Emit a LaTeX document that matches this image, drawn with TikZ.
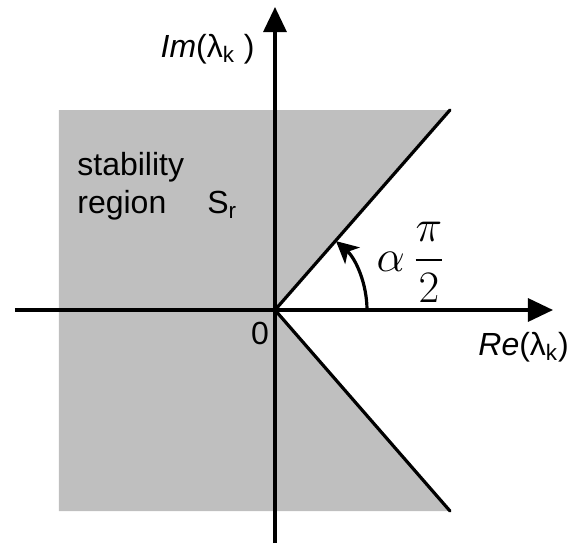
\documentclass[tikz,border=0pt]{standalone}
\usepackage{amsmath}
\usepackage{fontspec}
\setmainfont{Liberation Sans}
\usetikzlibrary{arrows.meta}

\tikzset{
  axis/.style={line width=1.6pt,-{Triangle[length=12.5pt,width=11.5pt]}},
  region/.style={fill=black!25},
  bound/.style={line width=1.6pt},
  lbl/.style={inner sep=0pt,font=\fontsize{16}{19}\selectfont}
}

\begin{document}
\begin{tikzpicture}[x=0.5pt,y=0.5pt]
\useasboundingbox (-275,-233) rectangle (294,310);
% axis ends and region corners
\coordinate (O) at (0,0);
\coordinate (xl) at (-260,0);
\coordinate (xr) at (278,0);
\coordinate (yb) at (0,-233);
\coordinate (yt) at (0,303);
\coordinate (ur) at (175,200);
\coordinate (lr) at (175,-201);
\fill[region] (-216,200) -- (ur) -- (O) -- (lr) -- (-216,-201) -- cycle;
\draw[axis] (xl) -- (xr);
\draw[axis] (yb) -- (yt);
\draw[bound,line cap=round] (ur) -- (O) -- (lr);
% angle of the sector
\draw[line width=1.6pt,-{Stealth[length=11pt,width=11pt,inset=3pt]}] (92,0) arc[start angle=0,end angle=48.5,radius=92];
\node[lbl,scale=1.3] (ang) at (136,48) {$\alpha\,\dfrac{\pi}{2}$};
\node[lbl,anchor=base east] (imlab) at (-20,253) {\textit{Im}(λ\textsubscript{k} )};
\node[lbl,anchor=base west] (relab) at (203,-45) {\textit{Re}(λ\textsubscript{k})};
\node[lbl] (zero) at (-15,-23) {0};
\node[lbl,anchor=west,align=left] (stab) at (-198,124) {stability\\region};
\node[lbl,anchor=base west] (sr) at (-68,97) {S\textsubscript{r}};
\end{tikzpicture}
\end{document}
